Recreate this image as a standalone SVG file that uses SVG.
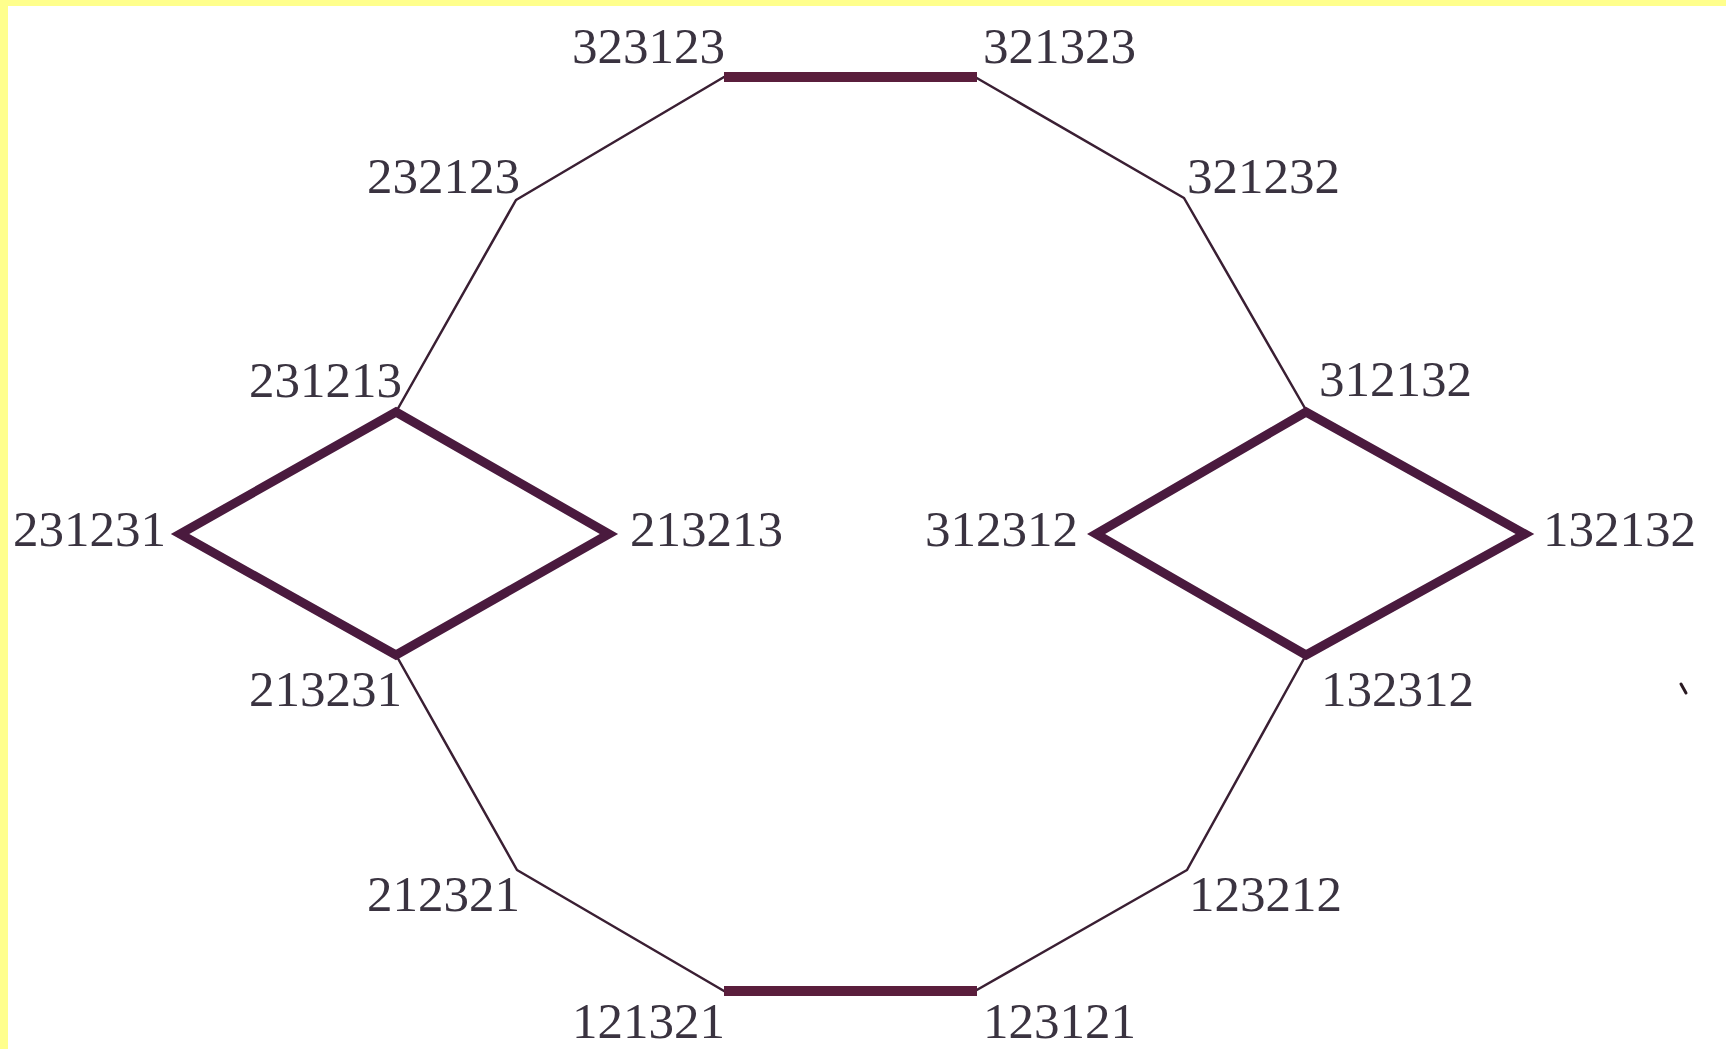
<svg xmlns="http://www.w3.org/2000/svg" width="1726" height="1049" viewBox="0 0 1726 1049">
<defs>
<style>
.thin{stroke:#3a1f33;stroke-width:2.5;fill:none;stroke-linecap:round;stroke-linejoin:round}
.bar{stroke:#5a1e3c;stroke-width:10;fill:none;stroke-linecap:butt}
.dia{stroke:#4a1a3e;stroke-width:9;fill:none;stroke-linejoin:miter}
.lbl{font-family:"Liberation Serif","DejaVu Serif",serif;font-size:51px;fill:#3a3340}
</style>
</defs>
<rect x="0" y="0" width="1726" height="1049" fill="#ffffff"/>
<rect x="0" y="0" width="1726" height="6" fill="#ffff8c"/>
<rect x="0" y="0" width="8" height="1049" fill="#ffff8c"/>
<g id="connectors">
<polyline class="thin" points="724,77 516,200 396,412"/>
<polyline class="thin" points="975,77 1184,198 1306,410"/>
<polyline class="thin" points="396,655 517,870 724,991"/>
<polyline class="thin" points="1306,655 1187,870 975,991"/>
<line class="bar" x1="724" y1="77" x2="977" y2="77"/>
<line class="bar" x1="724" y1="991" x2="977" y2="991"/>
<polygon class="dia" points="396,412 609,534 396,655 180,534"/>
<polygon class="dia" points="1306,412 1525,534 1306,655 1096,534"/>
<line x1="1681" y1="684" x2="1686" y2="693" stroke="#2a1a22" stroke-width="3" stroke-linecap="round"/>
</g>
<g id="n323123"><text class="lbl" x="572" y="63">323123</text></g>
<g id="n321323"><text class="lbl" x="983" y="63">321323</text></g>
<g id="n232123"><text class="lbl" x="367" y="193">232123</text></g>
<g id="n321232"><text class="lbl" x="1187" y="193">321232</text></g>
<g id="n231213"><text class="lbl" x="249" y="397">231213</text></g>
<g id="n312132"><text class="lbl" x="1319" y="396">312132</text></g>
<g id="n231231"><text class="lbl" x="13" y="546">231231</text></g>
<g id="n213213"><text class="lbl" x="630" y="546">213213</text></g>
<g id="n312312"><text class="lbl" x="925" y="546">312312</text></g>
<g id="n132132"><text class="lbl" x="1543" y="546">132132</text></g>
<g id="n213231"><text class="lbl" x="249" y="706">213231</text></g>
<g id="n132312"><text class="lbl" x="1321" y="706">132312</text></g>
<g id="n212321"><text class="lbl" x="367" y="911">212321</text></g>
<g id="n123212"><text class="lbl" x="1189" y="911">123212</text></g>
<g id="n121321"><text class="lbl" x="572" y="1038">121321</text></g>
<g id="n123121"><text class="lbl" x="983" y="1038">123121</text></g>
</svg>
